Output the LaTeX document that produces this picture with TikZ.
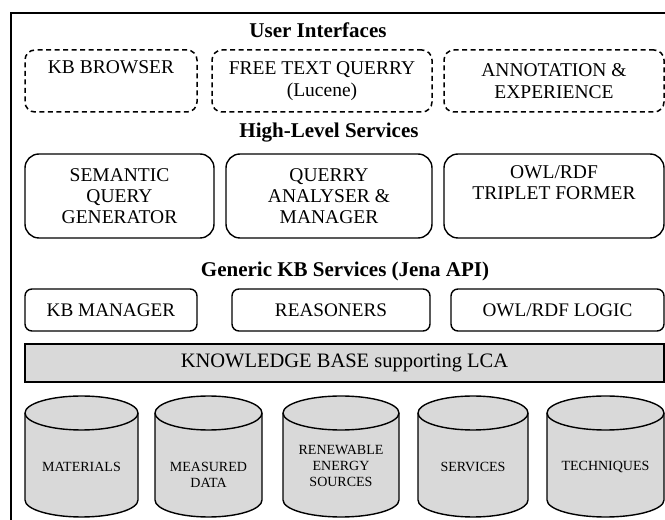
\documentclass[tikz,border=0pt]{standalone}
\usepackage{fontspec}
\setmainfont{Liberation Serif}

\tikzset{
	layer/.style={font=\fontsize{21}{25}\selectfont\bfseries, inner sep=0pt},
	uibox/.style={draw, line width=1.5pt, dash pattern=on 5pt off 3.5pt, rounded corners=10pt, minimum height=62pt, align=center, inner sep=0pt, font=\fontsize{19.5}{21.5}\selectfont},
	svcbox/.style={draw, line width=1.4pt, rounded corners=14pt, minimum height=84pt, align=center, inner sep=0pt, font=\fontsize{19.5}{20.7}\selectfont},
	apibox/.style={draw, line width=1.4pt, rounded corners=7pt, minimum height=42pt, inner sep=0pt, font=\fontsize{19.2}{21}\selectfont},
	kbbar/.style={draw, line width=1.4pt, fill=gray!30, minimum height=38pt, inner sep=0pt, font=\fontsize{20.5}{23}\selectfont},
	db/.style={draw, line width=1.4pt, fill=gray!30},
	dbtext/.style={align=center, inner sep=0pt, font=\fontsize{14}{16}\selectfont},
}

\begin{document}
\begin{tikzpicture}[x=1pt,y=1pt]
		\useasboundingbox (0,0) rectangle (665,520);
		\draw[line width=1.3pt] (11,0) -- (11,507) -- (665,507);
		
		% user interfaces
		\node[layer] (uititle) at (318,490) {User Interfaces};
		\node[uibox, minimum width=172pt] (browser) at (111,439) {KB BROWSER\\\strut};
		\node[uibox, minimum width=220pt] (freetext) at (322,439) {FREE TEXT QUERRY\\(Lucene)};
		\node[uibox, minimum width=220pt] (annot) at (554,439) {ANNOTATION \&\\EXPERIENCE};
		
		% high-level services
		\node[layer] (hltitle) at (329,387) {High-Level Services};
		\node[svcbox, minimum width=189pt] (semquery) at (119.5,324) {SEMANTIC\\QUERY\\GENERATOR};
		\node[svcbox, minimum width=206pt] (analyser) at (329,324) {QUERRY\\ANALYSER \&\\MANAGER};
		\node[svcbox, minimum width=220pt] (triplet) at (554,324) {OWL/RDF\\TRIPLET FORMER\\\strut};
		
		% generic kb services
		\node[layer] (jenatitle) at (345,249) {Generic KB Services (Jena API)};
		\node[apibox, minimum width=172pt] (kbman) at (111,210) {KB MANAGER};
		\node[apibox, minimum width=198pt] (reason) at (331,210) {REASONERS};
		\node[apibox, minimum width=213pt] (logic) at (557.5,210) {OWL/RDF LOGIC};
		
		\node[kbbar, minimum width=639pt] (kbase) at (344.5,157) {KNOWLEDGE BASE supporting LCA};
		
		% data stores
		\path[db] (25,107) -- (25,20) arc[start angle=180,end angle=360,x radius=56.5pt,y radius=17pt] -- (138,107) arc[start angle=0,end angle=180,x radius=56.5pt,y radius=17pt] -- cycle;
		\draw[line width=1.4pt] (25,107) arc[start angle=180,end angle=360,x radius=56.5pt,y radius=17pt];
		\node[dbtext] (materials) at (81.5,53) {MATERIALS};
		
		\path[db] (155,107) -- (155,20) arc[start angle=180,end angle=360,x radius=53.5pt,y radius=17pt] -- (262,107) arc[start angle=0,end angle=180,x radius=53.5pt,y radius=17pt] -- cycle;
		\draw[line width=1.4pt] (155,107) arc[start angle=180,end angle=360,x radius=53.5pt,y radius=17pt];
		\node[dbtext] (measured) at (208.5,45.5) {MEASURED\\DATA};
		
		\path[db] (283,107) -- (283,20) arc[start angle=180,end angle=360,x radius=58pt,y radius=17pt] -- (399,107) arc[start angle=0,end angle=180,x radius=58pt,y radius=17pt] -- cycle;
		\draw[line width=1.4pt] (283,107) arc[start angle=180,end angle=360,x radius=58pt,y radius=17pt];
		\node[dbtext] (renewable) at (341,54) {RENEWABLE\\ENERGY\\SOURCES};
		
		\path[db] (418,107) -- (418,20) arc[start angle=180,end angle=360,x radius=55pt,y radius=17pt] -- (528,107) arc[start angle=0,end angle=180,x radius=55pt,y radius=17pt] -- cycle;
		\draw[line width=1.4pt] (418,107) arc[start angle=180,end angle=360,x radius=55pt,y radius=17pt];
		\node[dbtext] (services) at (473,53) {SERVICES};
		
		\path[db] (547,107) -- (547,20) arc[start angle=180,end angle=360,x radius=58.5pt,y radius=17pt] -- (664,107) arc[start angle=0,end angle=180,x radius=58.5pt,y radius=17pt] -- cycle;
		\draw[line width=1.4pt] (547,107) arc[start angle=180,end angle=360,x radius=58.5pt,y radius=17pt];
		\node[dbtext] (techniques) at (605.5,53) {TECHNIQUES};
		
	\end{tikzpicture}
\end{document}
